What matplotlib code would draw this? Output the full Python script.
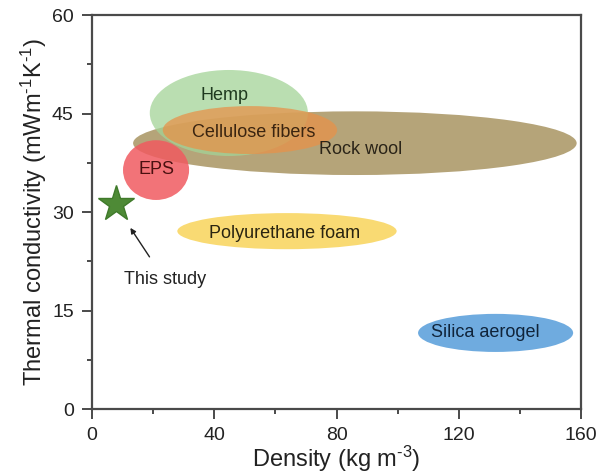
import matplotlib
matplotlib.use("Agg")
import matplotlib.pyplot as plt
from matplotlib.patches import Ellipse
from matplotlib.ticker import MultipleLocator

plt.rcParams['font.family'] = ['Liberation Sans', 'DejaVu Sans']
plt.rcParams['mathtext.fontset'] = 'custom'
plt.rcParams['mathtext.rm'] = 'Liberation Sans'
plt.rcParams['mathtext.it'] = 'Liberation Sans:italic'
plt.rcParams['mathtext.default'] = 'regular'

# Material property ranges: centre (density, conductivity) and extent
materials = ["Rock wool", "Hemp", "Cellulose fibers", "EPS", "Polyurethane foam", "Silica aerogel"]
density_center = [86, 44.8, 51.7, 21, 63.8, 132]
conductivity_center = [40.5, 45.1, 42.5, 36.4, 27.1, 11.6]
density_span = [145, 51.7, 57, 21.6, 71.7, 50.7]
conductivity_span = [9.7, 13.1, 7.3, 9.1, 5.5, 5.8]
label_pos_x = [88, 43.5, 53, 21, 63, 128.5]
label_pos_y = [39.5, 47.8, 42.2, 36.5, 26.8, 11.6]

colors = ["#b5a479", "#a3d497", "#e7924a", "#f05a60", "#f8d45a", "#5fa2dc"]
alphas = [1.0, 0.75, 0.75, 0.85, 0.85, 0.9]
text_colors = ["#2a2418", "#1f3a1f", "#3a2410", "#4a1010", "#2a2410", "#10243a"]

study_density = 8
study_conductivity = 31.2

fig = plt.figure(figsize=(6.08, 4.74), dpi=100)
ax = fig.add_axes([0.151, 0.137, 0.805, 0.831])

for i, name in enumerate(materials):
    e = Ellipse((density_center[i], conductivity_center[i]), density_span[i], conductivity_span[i],
                facecolor=colors[i], edgecolor="none", alpha=alphas[i], zorder=2 + i)
    ax.add_patch(e)
    ax.text(label_pos_x[i], label_pos_y[i], name, ha="center", va="center",
            fontsize=13, color=text_colors[i], zorder=10)

ax.plot([study_density], [study_conductivity], marker="*", markersize=27,
        color="#4e8a36", markeredgecolor="#3f7a2a", linestyle="none", zorder=12)

ax.annotate("This study", xy=(12.6, 27.6), xytext=(23.8, 19.7),
            ha="center", va="center", fontsize=13, color="#222222",
            arrowprops=dict(arrowstyle="-|>", color="#222222", lw=1.0,
                            mutation_scale=8, shrinkA=10, shrinkB=0),
            zorder=12)

ax.set_xlim(0, 160)
ax.set_ylim(0, 60)
ax.xaxis.set_major_locator(MultipleLocator(40))
ax.xaxis.set_minor_locator(MultipleLocator(20))
ax.yaxis.set_major_locator(MultipleLocator(15))
ax.yaxis.set_minor_locator(MultipleLocator(7.5))

spine_color = "#4a4a4a"
for s in ax.spines.values():
    s.set_color(spine_color)
    s.set_linewidth(1.6)

ax.tick_params(which="both", direction="out", color=spine_color, labelsize=14,
               labelcolor="#222222", top=False, right=False, pad=6)
ax.tick_params(which="major", length=7, width=1.4)
ax.tick_params(which="minor", length=3.5, width=1.4)

ax.set_xlabel(r"Density (kg m$^{\text{-}3}$)", fontsize=17, color="#222222", labelpad=0)
ax.set_ylabel(r"Thermal conductivity (mWm$^{\text{-}1}$K$^{\text{-}1}$)", fontsize=17,
              color="#222222", labelpad=2)

fig.savefig("out.png", dpi=100)
